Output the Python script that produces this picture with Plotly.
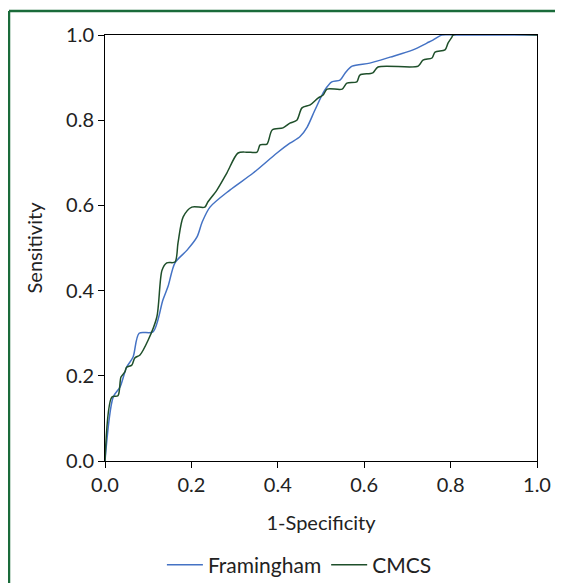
import plotly.graph_objects as go

fram_x = [0.0, 0.019, 0.035, 0.05, 0.065, 0.079, 0.111, 0.134, 0.146, 0.162, 0.19, 0.213,
          0.225, 0.243, 0.289, 0.343, 0.398, 0.428, 0.451, 0.468, 0.486, 0.509, 0.525,
          0.544, 0.556, 0.572, 0.613, 0.66, 0.713, 0.745, 0.759, 0.78, 0.81, 1.0]
fram_y = [0.0, 0.15, 0.174, 0.22, 0.244, 0.30, 0.303, 0.378, 0.41, 0.465, 0.495, 0.526,
          0.561, 0.596, 0.636, 0.676, 0.723, 0.746, 0.761, 0.784, 0.824, 0.871, 0.89,
          0.894, 0.911, 0.927, 0.934, 0.948, 0.965, 0.981, 0.988, 1.0, 1.0, 1.0]

cmcs_x = [0.0, 0.016, 0.03, 0.037, 0.046, 0.05, 0.062, 0.069, 0.081, 0.1, 0.12,
          0.132, 0.143, 0.162, 0.169, 0.181, 0.201, 0.231, 0.238, 0.259, 0.282,
          0.308, 0.329, 0.352, 0.359, 0.375, 0.387, 0.412, 0.428, 0.444, 0.456, 0.475,
          0.493, 0.505, 0.514, 0.549, 0.56, 0.583, 0.59, 0.62, 0.632, 0.725, 0.736,
          0.757, 0.764, 0.787, 0.794, 0.803, 0.806, 1.0]
cmcs_y = [0.0, 0.15, 0.153, 0.197, 0.209, 0.22, 0.225, 0.242, 0.249, 0.284, 0.338,
          0.448, 0.465, 0.467, 0.512, 0.573, 0.596, 0.596, 0.608, 0.636, 0.676,
          0.723, 0.725, 0.725, 0.742, 0.744, 0.777, 0.782, 0.793, 0.80, 0.829, 0.836,
          0.852, 0.859, 0.873, 0.873, 0.887, 0.89, 0.906, 0.911, 0.925, 0.927, 0.941,
          0.946, 0.96, 0.965, 0.981, 0.995, 1.0, 1.0]

tick_vals = [0.0, 0.2, 0.4, 0.6, 0.8, 1.0]
tick_text = ["0.0", "0.2", "0.4", "0.6", "0.8", "1.0"]

FONT = "Lato, 'Open Sans', sans-serif"

# page body has an 8px margin; figure is sized/offset to compensate
W, H = 555, 610
L, R, T = 97, 26, 27
PLOT_BOTTOM = 453
B = H - PLOT_BOTTOM
PW, PH = W - L - R, H - T - B


def px(x):
    return (x - L) / PW


def py(y):
    return (PLOT_BOTTOM - y) / PH


fig = go.Figure()
fig.add_trace(go.Scatter(x=fram_x, y=fram_y, mode="lines", name="Framingham",
                         line=dict(color="#4472c4", width=1.5, shape="spline", smoothing=0.8)))
fig.add_trace(go.Scatter(x=cmcs_x, y=cmcs_y, mode="lines", name="CMCS",
                         line=dict(color="#1e4f2a", width=1.5, shape="spline", smoothing=0.8)))

fig.update_layout(
    width=W, height=H,
    margin=dict(l=L, r=R, t=T, b=B),
    paper_bgcolor="white", plot_bgcolor="white",
    font=dict(family=FONT, size=20, color="#222222"),
    showlegend=True,
    legend=dict(orientation="h", x=0.45, xanchor="center", y=py(557), yanchor="middle",
                font=dict(size=21), itemwidth=36, bgcolor="rgba(0,0,0,0)",
                borderwidth=0, tracegroupgap=0),
    xaxis=dict(range=[0, 1], tickvals=tick_vals, ticktext=tick_text,
               showgrid=False, zeroline=False, showline=True, linecolor="black",
               linewidth=1, mirror=True, ticks="outside", ticklen=6, tickcolor="black",
               title=dict(text="1-Specificity", standoff=20, font=dict(size=20))),
    yaxis=dict(range=[0, 1], tickvals=tick_vals, ticktext=tick_text,
               showgrid=False, zeroline=False, showline=True, linecolor="black",
               linewidth=1, mirror=True, ticks="outside", ticklen=6, tickcolor="black",
               title=dict(text="Sensitivity", standoff=18, font=dict(size=20))),
    shapes=[
        dict(type="line", xref="paper", yref="paper",
             x0=px(1), x1=px(600), y0=py(3), y1=py(3),
             line=dict(color="#1a6b3a", width=2.5)),
        dict(type="line", xref="paper", yref="paper",
             x0=px(1), x1=px(1), y0=py(3), y1=py(640),
             line=dict(color="#1a6b3a", width=2.5)),
    ],
)

fig.write_html("out.html")
